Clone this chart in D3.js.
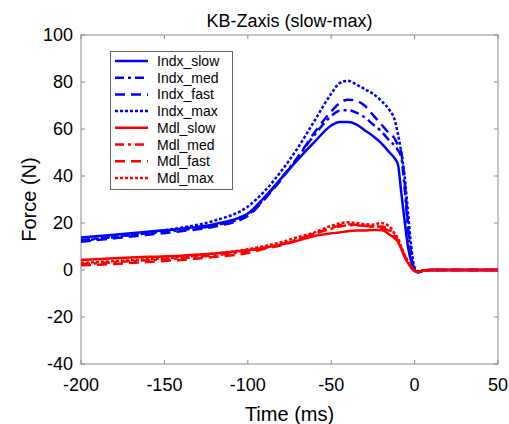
<!DOCTYPE html>
<html>
<head>
<meta charset="utf-8">
<script src="https://cdn.jsdelivr.net/npm/d3@7"></script>
<style>
  body { margin: 0; background: #fff; }
  text { font-family: "Liberation Sans", Arial, sans-serif; fill: #000; }
</style>
</head>
<body>
<div id="chart"></div>
<script>
// time axis (ms), shared by all series
var times = [-200,-180,-160,-140,-120,-100,-90,-80,-70,-60,-50,-45,-40,-35,-30,-25,-20,-15,-12,-10,-8,-6,-4,-2,0,2,5,10,20,30,40,50];

var indxSlow = [13.8,15,16.3,17.6,19.5,24,31,39,47,54.5,61.5,63,63,62,59.5,57,54,50,47.5,45,33,21,10,3.5,0,-1,-0.3,0,0,0,0,0];
var indxMed  = [12.8,14.2,15.6,17,19,23.5,30.5,39,48,57.5,65.5,67.8,68,67,65,62,59,55,53,51,48,35,18,6,0,-1,-0.3,0,0,0,0,0];
var indxFast = [12,13.5,15,16.5,18.5,23,30,38.5,48,58.5,67.5,71,72.5,72,70,66,62,58,56,53,50,38,20,7,0,-1,-0.3,0,0,0,0,0];
var indxMax  = [12.5,14,16,18,21,27,33.5,42,52,63.5,75,79.5,80.5,79,77,75,72,68,64,58,50,40,25,10,1,-0.5,-0.2,0,0,0,0,0];

var mdlSlow = [4.3,5,5.6,6.1,7,8.5,9.5,10.8,12.5,14.5,15.6,16,16.5,16.8,16.8,17,17,15,13.5,12,9,5.5,3,1,-0.5,-0.8,-0.3,0,0,0,0,0];
var mdlMed  = [2.5,3.3,4.2,5,6.3,8,9.5,11,13,15.5,17.5,18.5,19,19,18.8,18.5,18.5,17,14.5,12.5,9.5,6,3.5,1.2,-0.5,-0.8,-0.3,0,0,0,0,0];
var mdlFast = [2,2.6,3.4,4.3,5.6,7.2,9,10.5,12.8,15.5,17.8,19,19.5,19.3,18.8,18.5,18,16.5,14.5,12.5,9.5,6,3.5,1.2,-0.5,-0.8,-0.3,0,0,0,0,0];
var mdlMax  = [3,3.8,4.6,5.5,7,8.8,10.2,11.8,14,16,18.8,19.8,20.3,20,19.5,19.3,20,18.5,15.5,13.5,10,6.5,3.8,1.3,-0.4,-0.7,-0.3,0,0,0,0,0];

var seriesNames = ["Indx_slow","Indx_med","Indx_fast","Indx_max","Mdl_slow","Mdl_med","Mdl_fast","Mdl_max"];
var seriesValues = [indxSlow, indxMed, indxFast, indxMax, mdlSlow, mdlMed, mdlFast, mdlMax];
var seriesColors = ["#0000ff","#0000ff","#0000ff","#0000ff","#ff0000","#ff0000","#ff0000","#ff0000"];
var seriesDash = [null, "9,4,3,4", "10,6", "3,2", null, "9,4,3,4", "10,6", "3,2"];

var xTicks = [-200,-150,-100,-50,0,50];
var yTicks = [-40,-20,0,20,40,60,80,100];

var width = 509, height = 424;
var margin = {left: 81, right: 11, top: 35, bottom: 60};

var svg = d3.select("#chart").append("svg")
    .attr("width", width)
    .attr("height", height);

var x = d3.scaleLinear().domain([-200, 50]).range([margin.left, width - margin.right]);
var y = d3.scaleLinear().domain([-40, 100]).range([height - margin.bottom, margin.top]);

var axisColor = "#8c8c8c";

// plot box
svg.append("rect")
    .attr("x", x(-200)).attr("y", y(100))
    .attr("width", x(50) - x(-200)).attr("height", y(-40) - y(100))
    .attr("fill", "none").attr("stroke", axisColor).attr("stroke-width", 1);

// ticks on all four sides, pointing inward
var tickLen = 4;
svg.append("g").selectAll("line.xb").data(xTicks).enter().append("line")
    .attr("x1", function(d){ return x(d); }).attr("x2", function(d){ return x(d); })
    .attr("y1", y(-40)).attr("y2", y(-40) - tickLen)
    .attr("stroke", axisColor);
svg.append("g").selectAll("line.xt").data(xTicks).enter().append("line")
    .attr("x1", function(d){ return x(d); }).attr("x2", function(d){ return x(d); })
    .attr("y1", y(100)).attr("y2", y(100) + tickLen)
    .attr("stroke", axisColor);
svg.append("g").selectAll("line.yl").data(yTicks).enter().append("line")
    .attr("x1", x(-200)).attr("x2", x(-200) + tickLen)
    .attr("y1", function(d){ return y(d); }).attr("y2", function(d){ return y(d); })
    .attr("stroke", axisColor);
svg.append("g").selectAll("line.yr").data(yTicks).enter().append("line")
    .attr("x1", x(50)).attr("x2", x(50) - tickLen)
    .attr("y1", function(d){ return y(d); }).attr("y2", function(d){ return y(d); })
    .attr("stroke", axisColor);

// tick labels
svg.append("g").selectAll("text").data(xTicks).enter().append("text")
    .attr("x", function(d){ return x(d); })
    .attr("y", y(-40) + 27)
    .attr("text-anchor", "middle")
    .style("font-size", "18px")
    .text(function(d){ return d; });
svg.append("g").selectAll("text").data(yTicks).enter().append("text")
    .attr("x", x(-200) - 8)
    .attr("y", function(d){ return y(d); })
    .attr("dy", "0.36em")
    .attr("text-anchor", "end")
    .style("font-size", "18px")
    .text(function(d){ return d; });

// titles
svg.append("text")
    .attr("x", (x(-200) + x(50)) / 2).attr("y", 27)
    .attr("text-anchor", "middle")
    .style("font-size", "18px")
    .text("KB-Zaxis (slow-max)");
svg.append("text")
    .attr("x", (x(-200) + x(50)) / 2).attr("y", 421)
    .attr("text-anchor", "middle")
    .style("font-size", "20px")
    .text("Time (ms)");
svg.append("text")
    .attr("transform", "translate(36," + (y(30)) + ") rotate(-90)")
    .attr("text-anchor", "middle")
    .style("font-size", "20px")
    .text("Force (N)");

// lines
var line = d3.line()
    .x(function(d){ return x(d[0]); })
    .y(function(d){ return y(d[1]); })
    .curve(d3.curveMonotoneX);

svg.append("clipPath").attr("id", "plotclip").append("rect")
    .attr("x", x(-200)).attr("y", y(100))
    .attr("width", x(50) - x(-200)).attr("height", y(-40) - y(100));

svg.append("g").attr("clip-path", "url(#plotclip)")
  .selectAll("path").data(seriesValues).enter().append("path")
    .attr("d", function(vals){ return line(vals.map(function(v, i){ return [times[i], v]; })); })
    .attr("fill", "none")
    .attr("stroke", function(d, i){ return seriesColors[i]; })
    .attr("stroke-width", 2.5)
    .attr("stroke-dasharray", function(d, i){ return seriesDash[i]; });

// legend
var legend = svg.append("g");
legend.append("rect")
    .attr("x", 110.5).attr("y", 51.5)
    .attr("width", 122).attr("height", 138)
    .attr("fill", "#fff").attr("stroke", "#666").attr("stroke-width", 1);

var rowH = 16.7;
var items = legend.selectAll("g.item").data(seriesNames).enter().append("g")
    .attr("transform", function(d, i){ return "translate(0," + (61 + i * rowH) + ")"; });
items.append("line")
    .attr("x1", 115).attr("x2", 148).attr("y1", 0).attr("y2", 0)
    .attr("stroke", function(d, i){ return seriesColors[i]; })
    .attr("stroke-width", 2.5)
    .attr("stroke-dasharray", function(d, i){ return seriesDash[i]; });
items.append("text")
    .attr("x", 157).attr("y", 0).attr("dy", "0.36em")
    .style("font-size", "14px")
    .text(function(d){ return d; });
</script>
</body>
</html>
